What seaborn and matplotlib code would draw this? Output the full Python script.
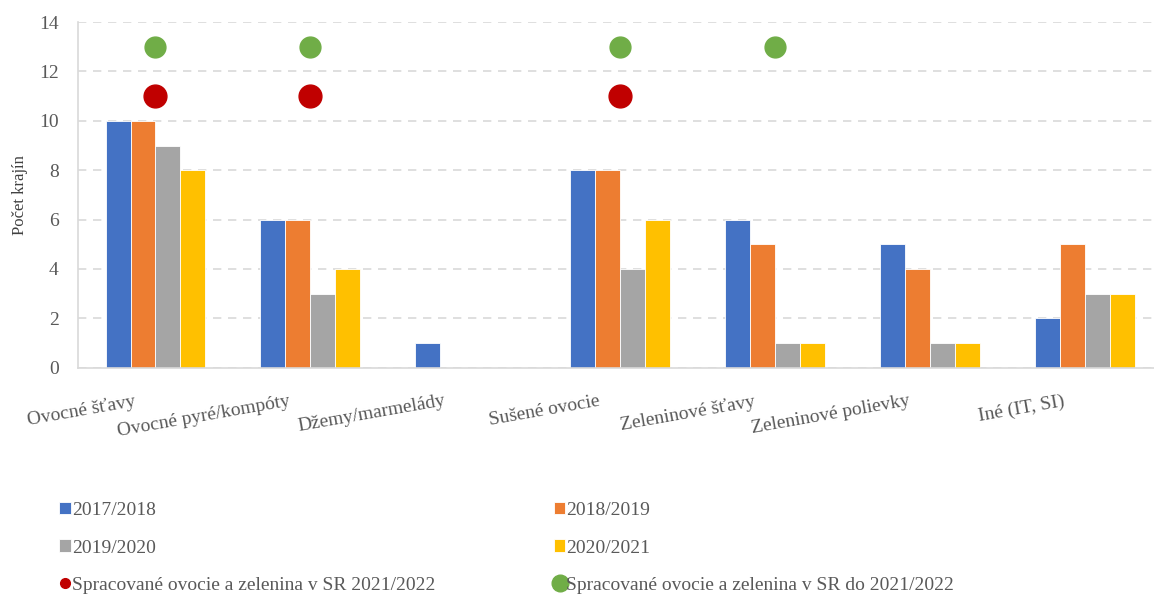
import pandas as pd
import matplotlib.pyplot as plt
import seaborn as sns
from matplotlib.lines import Line2D
from matplotlib.transforms import ScaledTranslation

# Data
categories = ["Ovocné šťavy", "Ovocné pyré/kompóty", "Džemy/marmelády", "Sušené ovocie",
              "Zeleninové šťavy", "Zeleninové polievky", "Iné (IT, SI)"]
seasons = ["2017/2018", "2018/2019", "2019/2020", "2020/2021"]
v_2017 = [10, 6, 1, 8, 6, 5, 2]
v_2018 = [10, 6, 0, 8, 5, 4, 5]
v_2019 = [9, 3, 0, 4, 1, 1, 3]
v_2020 = [8, 4, 0, 6, 1, 1, 3]

red_cats = ["Ovocné šťavy", "Ovocné pyré/kompóty", "Sušené ovocie"]
red_level = 11
green_cats = ["Ovocné šťavy", "Ovocné pyré/kompóty", "Sušené ovocie", "Zeleninové šťavy"]
green_level = 13

red_label = "Spracované ovocie a zelenina v SR 2021/2022"
green_label = "Spracované ovocie a zelenina v SR do 2021/2022"

colors = ["#4472C4", "#ED7D31", "#A5A5A5", "#FFC000"]

rows = []
for season, vals in zip(seasons, [v_2017, v_2018, v_2019, v_2020]):
    for cat, v in zip(categories, vals):
        rows.append({"Kategória": cat, "Sezóna": season, "Počet": v})
df = pd.DataFrame(rows)

sns.set_style("white")
plt.rcParams["font.family"] = ["Liberation Serif", "DejaVu Serif"]

fig = plt.figure(figsize=(11.54, 5.96), dpi=100)
# plot area runs past the right edge of the picture, as in the reference
ax = fig.add_axes([0.0676, 0.383, 0.94, 0.58])

sns.barplot(data=df, x="Kategória", y="Počet", hue="Sezóna", order=categories,
            hue_order=seasons, palette=colors, width=0.645, edgecolor="white",
            linewidth=0.6, saturation=1, ax=ax, legend=True)

red_x = [categories.index(c) for c in red_cats]
green_x = [categories.index(c) for c in green_cats]
ax.scatter(red_x, [red_level] * len(red_x), s=270, color="#C00000", zorder=5)
ax.scatter(green_x, [green_level] * len(green_x), s=225, color="#70AD47", zorder=5)

ax.set_ylim(0, 14)
ax.set_yticks(range(0, 15, 2))
ax.set_xlim(-0.5, 6.5)
ax.yaxis.grid(True, color="#D9D9D9", linestyle=(0, (5, 4)), linewidth=1.2)
ax.set_axisbelow(True)
for side in ["top", "right"]:
    ax.spines[side].set_visible(False)
for side in ["left", "bottom"]:
    ax.spines[side].set_color("#D9D9D9")
    ax.spines[side].set_linewidth(1.2)

ax.set_xlabel("")
ax.set_ylabel("Počet krajín", fontsize=12, color="#404040", labelpad=8)
ax.tick_params(axis="y", labelsize=14, colors="#595959", length=0, pad=14)
ax.tick_params(axis="x", labelsize=14, colors="#595959", length=0, pad=18)
ax.set_xticks(range(len(categories)))
ax.set_xticklabels(categories, rotation=10, ha="right", rotation_mode="anchor")
shift = ScaledTranslation(-0.22, 0, fig.dpi_scale_trans)
for lab in ax.get_xticklabels():
    lab.set_transform(lab.get_transform() + shift)

# Legend: reorder so it reads row by row
bar_handles, bar_labels = ax.get_legend_handles_labels()
ax.get_legend().remove()
red_h = Line2D([], [], marker="o", linestyle="", markersize=7, color="#C00000")
green_h = Line2D([], [], marker="o", linestyle="", markersize=12, color="#70AD47")
handles = [bar_handles[0], bar_handles[2], red_h, bar_handles[1], bar_handles[3], green_h]
labels = [bar_labels[0], bar_labels[2], red_label, bar_labels[1], bar_labels[3], green_label]
fig.legend(handles, labels, loc="upper left", bbox_to_anchor=(0.036, 0.187), ncol=2,
           frameon=False, fontsize=14, labelcolor="#595959", handlelength=0.6,
           handleheight=0.6, handletextpad=0.05, labelspacing=1.05, columnspacing=6.1)

plt.savefig("out.png", dpi=100)
